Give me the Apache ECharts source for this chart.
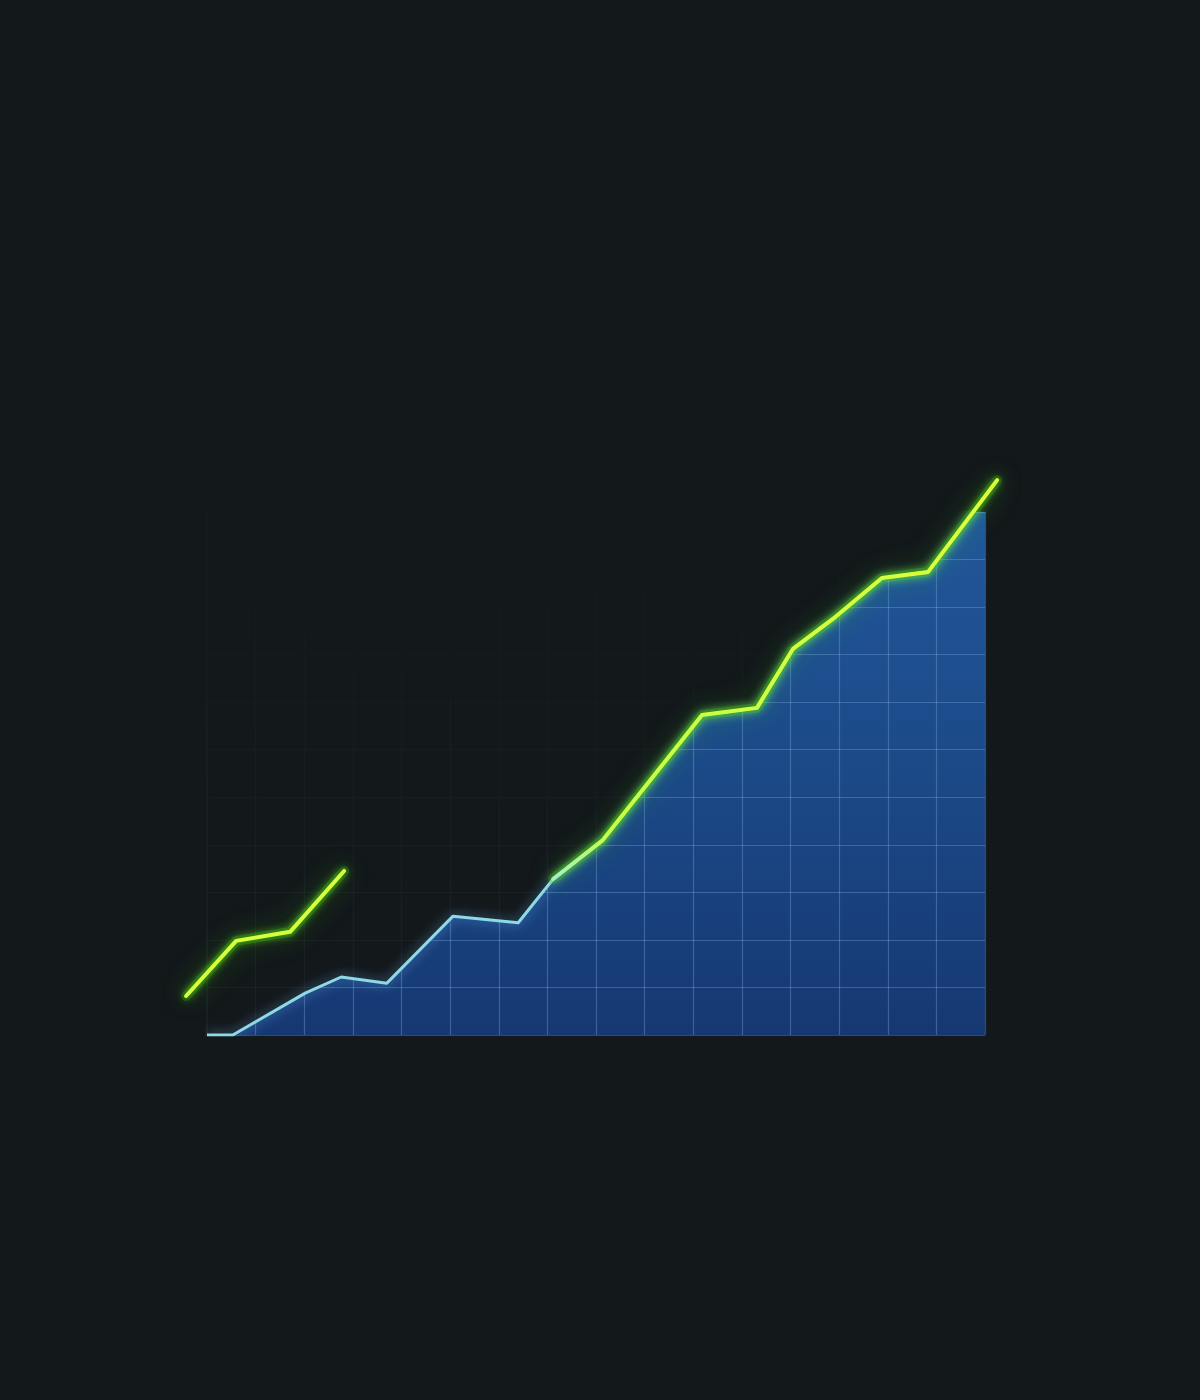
<!DOCTYPE html>
<html>
<head>
  <meta charset="utf-8">
  <title>growth area</title>
  <script src="https://cdn.jsdelivr.net/npm/echarts@6/dist/echarts.min.js"></script>
  <style>
    html, body { margin: 0; padding: 0; background: #13181b; }
    #chart { width: 1200px; height: 1400px; }
  </style>
</head>
<body>
<div id="chart"></div>

<script>
  // blue area edge (x in grid columns, y in grid rows)
  var areaX = [0, 0.53, 2.02, 2.76, 3.70, 5.06, 6.40, 7.12, 8.14, 10.18, 11.31, 12.05, 12.92, 13.88, 14.83, 16.25];
  var areaY = [0, 0, 0.88, 1.22, 1.09, 2.50, 2.36, 3.28, 4.10, 6.73, 6.88, 8.12, 8.79, 9.61, 9.74, 11.67];
  // short green lead-in on the left
  var leadX = [-0.43, 0.60, 1.71, 2.82];
  var leadY = [0.82, 1.98, 2.17, 3.45];
  // the green trace picks up the area edge from this point on
  var glowFrom = 7;

  function pairs(xs, ys) {
    return xs.map(function (x, i) { return [x, ys[i]]; });
  }

  var areaData = pairs(areaX, areaY);
  var leadData = pairs(leadX, leadY);
  var traceData = areaData.slice(glowFrom);

  // inner grid: 16 columns x 11 rows
  var colW = 48.625, rowH = 47.545;
  var gLeft = 207, gTop = 512, gRight = 215, gBottom = 365;

  var bg = '#13181b';
  var chart = echarts.init(document.getElementById('chart'));

  var hidden = {
    axisLine: {show: false}, axisTick: {show: false},
    axisLabel: {show: false}, splitLine: {show: false}
  };
  var gridLine = {show: true, lineStyle: {color: 'rgba(150,190,240,0.3)', width: 1.2}};

  function halo(data) {
    return {
      type: 'line', data: data, symbol: 'none', z: 5,
      xAxisIndex: 1, yAxisIndex: 1,
      lineStyle: {
        width: 10, cap: 'round', join: 'round',
        color: 'rgba(60,210,0,0.22)',
        shadowBlur: 28, shadowColor: 'rgba(60,255,0,0.9)'
      }
    };
  }

  function core(data, color) {
    return {
      type: 'line', data: data, symbol: 'none', z: 6,
      xAxisIndex: 1, yAxisIndex: 1,
      lineStyle: {
        width: 4, cap: 'round', join: 'round', color: color,
        shadowBlur: 10, shadowColor: 'rgba(110,255,30,1)'
      }
    };
  }

  chart.setOption({
    backgroundColor: bg,
    animation: false,
    grid: [
      {left: gLeft, right: gRight, top: gTop, bottom: gBottom},
      // wider twin grid with the same scale, so the green trace can run past the edges
      {left: gLeft - colW, right: gRight - colW, top: gTop - 2 * rowH, bottom: gBottom}
    ],
    xAxis: [
      Object.assign({type: 'value', min: 0, max: 16, interval: 1, z: 2, gridIndex: 0}, hidden, {splitLine: gridLine}),
      Object.assign({type: 'value', min: -1, max: 17, gridIndex: 1}, hidden)
    ],
    yAxis: [
      Object.assign({type: 'value', min: 0, max: 11, interval: 1, z: 2, gridIndex: 0}, hidden, {splitLine: gridLine}),
      Object.assign({type: 'value', min: 0, max: 13, gridIndex: 1}, hidden)
    ],
    series: [
      {
        // fill
        type: 'line', data: areaData, symbol: 'none', z: 1,
        lineStyle: {width: 0},
        areaStyle: {
          opacity: 1,
          color: new echarts.graphic.LinearGradient(0, 0, 0, 1, [
            {offset: 0, color: '#22599c'},
            {offset: 0.5, color: '#1c4a89'},
            {offset: 1, color: '#163872'}
          ])
        }
      },
      {
        // darkens the grid above the area
        type: 'line', data: areaData, symbol: 'none', z: 3,
        lineStyle: {width: 0},
        areaStyle: {
          origin: 'end',
          opacity: 1,
          color: new echarts.graphic.LinearGradient(0, 0, 0, 1, [
            {offset: 0, color: 'rgba(19,24,27,1)'},
            {offset: 0.35, color: 'rgba(19,24,27,0.95)'},
            {offset: 1, color: 'rgba(19,24,27,0.8)'}
          ])
        }
      },
      {
        // pale edge of the area
        type: 'line', data: areaData, symbol: 'none', z: 4,
        lineStyle: {
          width: 3, color: '#8fd8e6', join: 'round',
          shadowBlur: 12, shadowColor: 'rgba(110,190,255,0.7)'
        }
      },
      halo(leadData),
      halo(traceData),
      core(leadData, '#d6ff3e'),
      core(traceData, new echarts.graphic.LinearGradient(0, 0, 1, 0, [
        {offset: 0, color: '#a4ecd6'},
        {offset: 0.13, color: '#c8ff45'},
        {offset: 1, color: '#dcff3c'}
      ]))
    ]
  });
</script>
</body>
</html>
